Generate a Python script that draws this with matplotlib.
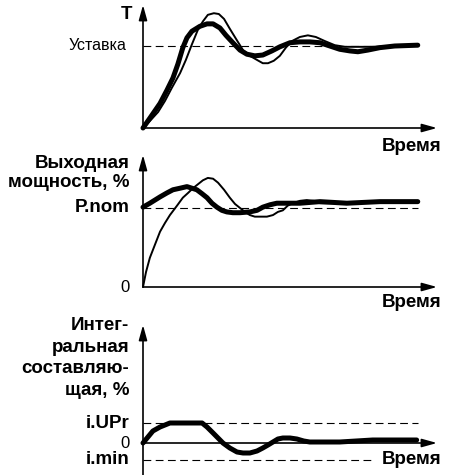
import matplotlib
matplotlib.use('Agg')
import matplotlib.pyplot as plt

plt.rcParams['font.family'] = ['Liberation Sans', 'DejaVu Sans']

# panel 1: temperature (setpoint = 1), time in arbitrary units
t1_thick = [0, 0.25, 0.62, 0.87, 1.09, 1.27, 1.45, 1.60, 1.78, 2.07, 2.33, 2.55, 2.80, 3.02, 3.27, 3.53,
            3.78, 4.07, 4.36, 4.69, 4.98, 5.35, 5.71, 6.07, 6.44, 6.80, 7.16, 7.53, 7.82, 8.18, 8.62, 9.16, 10.0]
T_thick = [0, 0.12, 0.30, 0.46, 0.61, 0.78, 0.98, 1.10, 1.18, 1.24, 1.27, 1.27, 1.22, 1.13, 1.04, 0.95,
           0.90, 0.88, 0.89, 0.94, 0.99, 1.04, 1.05, 1.05, 1.04, 1.0, 0.96, 0.94, 0.93, 0.95, 0.98, 1.0, 1.01]
t1_thin = [0, 0.25, 0.55, 0.80, 1.05, 1.35, 1.56, 1.78, 2.0, 2.18, 2.36, 2.58, 2.76, 2.95, 3.16, 3.38, 3.64,
           3.89, 4.15, 4.36, 4.55, 4.76, 4.98, 5.2, 5.42, 5.71, 6.0, 6.29, 6.62, 6.98, 7.35, 8.25, 9.16, 10.0]
T_thin = [0, 0.085, 0.195, 0.33, 0.49, 0.67, 0.83, 1.02, 1.20, 1.30, 1.38, 1.40, 1.39, 1.33, 1.21, 1.09, 0.95,
          0.88, 0.83, 0.79, 0.79, 0.82, 0.88, 0.98, 1.06, 1.11, 1.13, 1.11, 1.06, 1.01, 0.99, 0.99, 1.0, 1.01]
setpoint = 1.0

# panel 2: output power (P.nom = 1)
t2_thick = [0, 0.25, 0.62, 0.87, 1.09, 1.35, 1.6, 1.78, 1.96, 2.15, 2.33, 2.51, 2.69, 2.87, 3.05, 3.27,
            3.53, 3.89, 4.15, 4.36, 4.62, 4.87, 5.35, 5.71, 6.44, 7.42, 8.62, 10]
P_thick = [1.01, 1.06, 1.14, 1.19, 1.23, 1.25, 1.27, 1.25, 1.23, 1.18, 1.13, 1.06, 1.01, 0.97, 0.95, 0.94,
           0.94, 0.95, 0.97, 1.01, 1.04, 1.06, 1.06, 1.06, 1.08, 1.06, 1.08, 1.08]
t2_thin = [0, 0.11, 0.25, 0.44, 0.62, 0.80, 0.98, 1.24, 1.45, 1.64, 1.82, 2.0, 2.18, 2.36, 2.55, 2.73, 2.95,
           3.16, 3.35, 3.53, 3.71, 3.89, 4.07, 4.25, 4.51, 4.73, 4.91, 5.09, 5.27, 5.45, 5.71, 5.96, 6.22,
           6.44, 7.16, 10]
P_thin = [0, 0.19, 0.37, 0.54, 0.70, 0.81, 0.91, 1.03, 1.13, 1.19, 1.25, 1.30, 1.35, 1.38, 1.37, 1.32, 1.23,
          1.13, 1.05, 1.0, 0.95, 0.91, 0.89, 0.89, 0.89, 0.91, 0.95, 0.97, 1.03, 1.06, 1.09, 1.10, 1.09,
          1.06, 1.06, 1.08]
p_nom = 1.0

# panel 3: integral component (i.UPr = 1)
t3 = [0, 0.18, 0.36, 0.62, 0.98, 2.15, 2.33, 2.55, 2.73, 2.91, 3.16, 3.42, 3.64, 3.89, 4.15, 4.36, 4.55,
      4.73, 4.91, 5.09, 5.35, 5.6, 5.85, 6.07, 7.16, 8.36, 9.96]
I_val = [0, 0.3, 0.6, 0.8, 1, 1, 0.8, 0.5, 0.25, 0, -0.25, -0.45, -0.5, -0.5, -0.4, -0.25, -0.1,
         0.05, 0.2, 0.25, 0.25, 0.2, 0.1, 0.05, 0.05, 0.15, 0.15]
i_upr = 1.0
i_min = -0.85

W, H = 449, 475
fig = plt.figure(figsize=(W / 100, H / 100), dpi=100)


def make_ax(px_bottom, px_top, ylim):
    # axes box in pixel rows, x from 143 px (t=0) to 437 px
    ax = fig.add_axes([143 / W, 1 - px_bottom / H, (437 - 143) / W, (px_bottom - px_top) / H])
    ax.set_xlim(0, 10.7)
    ax.set_ylim(*ylim)
    ax.axis('off')
    return ax


def axis_arrows(ax, y0, ytop, ybot):
    ap = dict(arrowstyle='-|>,head_length=0.9,head_width=0.25', color='black', lw=1.2, shrinkA=0, shrinkB=0)
    ax.annotate('', xy=(0, ytop), xytext=(0, ybot), arrowprops=ap, annotation_clip=False)
    ax.annotate('', xy=(10.7, y0), xytext=(0, y0), arrowprops=ap, annotation_clip=False)


dash = dict(color='black', lw=0.8, dashes=(7, 4))
bold = dict(fontweight='bold', fontsize=13.5)
thin = dict(color='black', lw=1.4, solid_capstyle='round', solid_joinstyle='round', clip_on=False)
thick = dict(color='black', lw=3.6, solid_capstyle='round', solid_joinstyle='round', clip_on=False)
lx = -0.5

# ---- panel 1
ax1 = make_ax(128, 5, (0, 1.5))
axis_arrows(ax1, 0, 1.5, 0)
ax1.plot([0, 10], [setpoint, setpoint], **dash)
ax1.plot(t1_thin, T_thin, **thin)
ax1.plot(t1_thick, T_thick, **thick)
ax1.text(-0.6, setpoint, 'Уставка', ha='right', va='center', fontsize=11.5)
ax1.text(-0.4, 1.38, 'T', ha='right', va='center', **bold)
ax1.text(10.85, -0.23, 'Время', ha='right', va='center', **bold)

# ---- panel 2
ax2 = make_ax(287, 155, (0, 1.67))
axis_arrows(ax2, 0, 1.67, 0)
ax2.plot([0, 10], [p_nom, p_nom], **dash)
ax2.plot(t2_thin, P_thin, **thin)
ax2.plot(t2_thick, P_thick, **thick)
ax2.text(lx, 1.44, 'Выходная\nмощность, %', ha='right', va='center', multialignment='right',
         linespacing=1.2, **bold)
ax2.text(lx, p_nom, 'P.nom', ha='right', va='center', **bold)
ax2.text(lx, 0, '0', ha='right', va='center', fontsize=12)
ax2.text(10.85, -0.2, 'Время', ha='right', va='center', **bold)

# ---- panel 3
ax3 = make_ax(475, 325, (-1.6, 5.9))
axis_arrows(ax3, 0, 5.9, -1.6)
ax3.plot([0, 10], [i_upr, i_upr], **dash)
ax3.plot([0, 8.45], [i_min, i_min], **dash)
ax3.plot(t3, I_val, **thick)
ax3.text(lx, 4.25, 'Интег-\nральная\nсоставляю-\nщая, %', ha='right', va='center',
         multialignment='right', linespacing=1.35, **bold)
ax3.text(lx, i_upr, 'i.UPr', ha='right', va='center', **bold)
ax3.text(lx, 0, '0', ha='right', va='center', fontsize=12)
ax3.text(lx, i_min, 'i.min', ha='right', va='center', **bold)
ax3.text(10.85, i_min, 'Время', ha='right', va='center', **bold)

fig.savefig('out.png', dpi=100)
